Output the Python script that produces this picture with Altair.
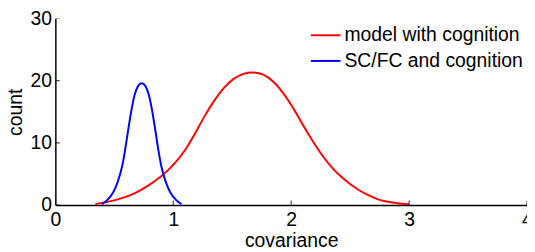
import altair as alt
import pandas as pd

series_names = ["model with cognition", "SC/FC and cognition"]
series_colors = ["#ff0000", "#0000ff"]

red_x = [0.34, 0.45, 0.563, 0.675, 0.787, 0.90, 0.95, 1.01, 1.10, 1.177, 1.261, 1.345,
         1.428, 1.512, 1.596, 1.68, 1.763, 1.847, 1.93, 2.014, 2.098, 2.18, 2.265, 2.349,
         2.43, 2.51, 2.58, 2.65, 2.72, 2.79, 2.90, 3.00]
red_y = [0.16, 0.5, 1.06, 1.85, 3.06, 4.6, 5.5, 6.6, 8.7, 11.2, 14.2, 16.8,
         18.9, 20.4, 21.2, 21.4, 21.1, 20.0, 18.1, 15.8, 12.9, 10.3, 7.9, 5.9,
         4.4, 3.2, 2.3, 1.6, 1.0, 0.6, 0.25, 0.1]

blue_x = [0.396, 0.44, 0.494, 0.53, 0.563, 0.585, 0.605, 0.625, 0.645, 0.67, 0.70, 0.7325,
          0.765, 0.795, 0.82, 0.84, 0.86, 0.88, 0.902, 0.935, 0.971, 1.025, 1.069]
blue_y = [0.15, 0.7, 2.0, 3.7, 5.8, 8.0, 10.5, 13.0, 15.3, 17.8, 19.3, 19.7,
          19.3, 17.8, 15.3, 13.0, 10.5, 8.0, 5.8, 3.7, 2.0, 0.7, 0.15]

x_ticks = [0, 1, 2, 3, 4]
y_ticks = [0, 10, 20, 30]

df = pd.concat([
    pd.DataFrame({"x": red_x, "y": red_y, "series": series_names[0], "o": range(len(red_x))}),
    pd.DataFrame({"x": blue_x, "y": blue_y, "series": series_names[1], "o": range(len(blue_x))}),
])
xt = pd.DataFrame({"x": x_ticks, "y": [0] * len(x_ticks)})
yt = pd.DataFrame({"x": [0] * len(y_ticks), "y": y_ticks})

FONT = "Liberation Sans"
FS = 19.6

xscale = alt.Scale(domain=[0, 4], nice=False, zero=False)
yscale = alt.Scale(domain=[0, 30], nice=False)

lines = alt.Chart(df).mark_line(strokeWidth=2, interpolate="basis", clip=True).encode(
    x=alt.X("x:Q", scale=xscale,
            axis=alt.Axis(values=x_ticks, format="d", title="covariance", tickSize=0,
                          labelPadding=6, titlePadding=2, grid=False, domainColor="black",
                          domainWidth=1.5, labelFontSize=FS, titleFontSize=FS, labelFont=FONT,
                          titleFont=FONT, titleFontWeight="normal", labelColor="black",
                          titleColor="black", labelFlush=False, labelOverlap=False)),
    y=alt.Y("y:Q", scale=yscale,
            axis=alt.Axis(values=y_ticks, format="d", title="count", tickSize=0,
                          labelPadding=4, titlePadding=5, grid=False, domainColor="black",
                          domainWidth=1.5, labelFontSize=FS, titleFontSize=FS, labelFont=FONT,
                          titleFont=FONT, titleFontWeight="normal", labelColor="black",
                          titleColor="black", labelFlush=False, labelOverlap=False)),
    color=alt.Color("series:N", scale=alt.Scale(domain=series_names, range=series_colors),
                    legend=alt.Legend(title=None, orient="none", legendX=258, legendY=1,
                                      symbolType="stroke", symbolSize=900, symbolStrokeWidth=2,
                                      labelFontSize=FS, labelFont=FONT, labelColor="black",
                                      labelOffset=3, rowPadding=0, padding=0, labelLimit=400)),
    order="o:Q",
)

xtick_marks = alt.Chart(xt).mark_tick(orient="vertical", size=9, thickness=1.2,
                                      color="black", clip=True).encode(
    x=alt.X("x:Q", scale=xscale), y=alt.Y("y:Q", scale=yscale))
ytick_marks = alt.Chart(yt).mark_tick(orient="horizontal", size=9, thickness=1.2,
                                      color="black", clip=True).encode(
    x=alt.X("x:Q", scale=xscale), y=alt.Y("y:Q", scale=yscale))

chart = alt.layer(lines, xtick_marks, ytick_marks).properties(
    width=478, height=189,
    autosize=alt.AutoSizeParams(type="none"),
    padding={"left": 48, "top": 9, "right": 0, "bottom": 46},
).configure_view(stroke=None)

chart.save("out.html", embed_options={"renderer": "svg", "actions": False})
